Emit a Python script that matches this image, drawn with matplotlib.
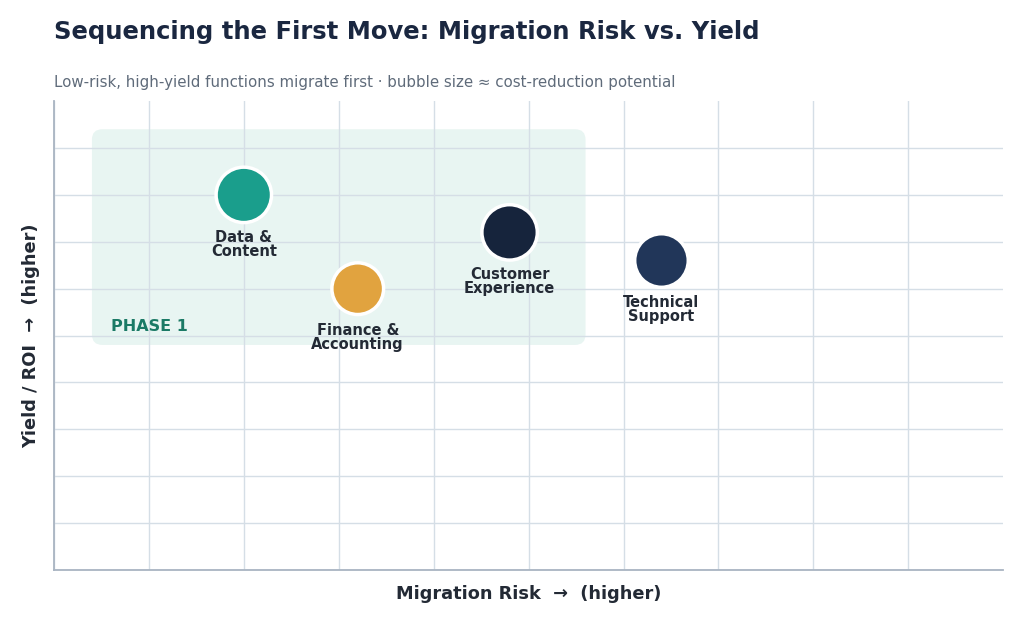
import matplotlib.pyplot as plt
from matplotlib.patches import FancyBboxPatch

# Data
functions = ['Data &\nContent', 'Finance &\nAccounting', 'Customer\nExperience', 'Technical\nSupport']
risk = [2.0, 3.2, 4.8, 6.4]
yield_roi = [8.0, 6.0, 7.2, 6.6]
cost_reduction = [30, 28, 30, 29]
colors = ['#1a9e8c', '#e1a33f', '#16243c', '#213659']

phase1_x = [0.4, 5.6]
phase1_y = [4.8, 9.4]

fig = plt.figure(figsize=(10.24, 6.24), dpi=100)
ax = fig.add_axes([0.0527, 0.0865, 0.927, 0.7515])

ax.set_xlim(0, 10)
ax.set_ylim(0, 10)
ax.set_xticks(range(0, 10))
ax.set_yticks(range(0, 10))
ax.tick_params(length=0, labelbottom=False, labelleft=False)
ax.grid(True, color='#d5dee6', linewidth=1)
ax.set_axisbelow(True)
for side in ['top', 'right']:
    ax.spines[side].set_visible(False)
for side in ['left', 'bottom']:
    ax.spines[side].set_color('#a9b4c2')
    ax.spines[side].set_linewidth(1.3)

# Phase 1 zone
zone = FancyBboxPatch((phase1_x[0], phase1_y[0]), phase1_x[1] - phase1_x[0], phase1_y[1] - phase1_y[0],
                      boxstyle='round,pad=0,rounding_size=0.11', mutation_aspect=2.0,
                      facecolor='#e8f5f2', edgecolor='none', zorder=0.5)
ax.add_patch(zone)
ax.text(0.6, 5.2, 'PHASE 1', color='#1b7a66', fontsize=11.5, fontweight='bold',
        ha='left', va='center')

sizes = [(c * 1.33) ** 2 for c in cost_reduction]
ax.scatter(risk, yield_roi, s=sizes, c=colors, edgecolors='white', linewidths=2.5, zorder=3)

for x, y, name in zip(risk, yield_roi, functions):
    ax.annotate(name, (x, y), xytext=(0, -25), textcoords='offset points',
                ha='center', va='top', fontsize=10.5, fontweight='bold',
                color='#232a35', linespacing=0.92, zorder=4)

ax.set_xlabel('Migration Risk  →  (higher)', fontsize=12.8, fontweight='bold',
              color='#232a35', labelpad=11)
ax.set_ylabel('Yield / ROI  →  (higher)', fontsize=12.8, fontweight='bold',
              color='#232a35', labelpad=10)

fig.text(0.0527, 0.948, 'Sequencing the First Move: Migration Risk vs. Yield',
         fontsize=17.5, fontweight='bold', color='#1a2740', ha='left', va='center')
fig.text(0.0527, 0.868, 'Low-risk, high-yield functions migrate first · bubble size ≈ cost-reduction potential',
         fontsize=10.8, color='#5f6b7a', ha='left', va='center')

fig.savefig('out.png', dpi=100)
